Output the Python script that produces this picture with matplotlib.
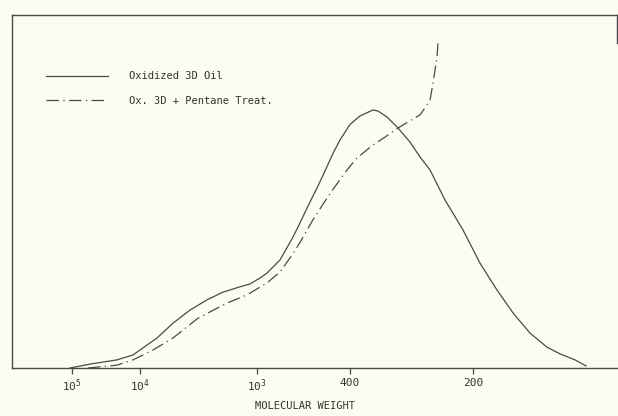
import matplotlib
matplotlib.use("Agg")
import matplotlib.pyplot as plt

# elution position (arbitrary units) and detector response (% of full scale)
oil_x = [5.8, 7.8, 10.5, 12.1, 12.8, 14.5, 16.1, 17.8, 19.5, 21.1, 22.8, 23.8,
         24.8, 25.5, 26.8, 28.1, 28.8, 29.5, 30.5, 31.1, 32.1, 32.8, 33.8, 34.8,
         36.1, 36.6, 37.5, 38.6, 39.8, 40.8, 41.8, 43.3, 45.1, 46.8, 48.5, 50.1,
         51.8, 53.5, 54.8, 56.3, 57.4]
oil_y = [0.0, 1.1, 2.3, 3.7, 5.1, 8.5, 12.7, 16.4, 19.3, 21.5, 23.0, 23.8,
         25.5, 26.9, 30.6, 37.1, 41.1, 45.3, 51.0, 54.6, 60.8, 64.6, 69.0, 71.4,
         73.1, 72.8, 71.1, 68.0, 64.0, 59.8, 56.1, 47.6, 39.1, 29.7, 22.1, 15.6,
         9.9, 5.9, 4.0, 2.3, 0.6]

pent_x = [7.6, 10.5, 12.1, 14.1, 16.1, 18.5, 19.8, 21.5, 23.5, 25.5, 26.8, 28.1,
          28.8, 30.1, 31.1, 32.1, 33.5, 34.5, 36.1, 37.3, 38.6, 40.8, 41.3, 41.8,
          42.1, 42.3, 42.5, 42.6]
pent_y = [0.0, 0.8, 2.3, 5.1, 8.5, 13.9, 15.9, 18.4, 20.7, 24.1, 27.2, 32.4,
          35.6, 42.0, 46.4, 50.6, 56.1, 59.5, 63.2, 65.4, 68.0, 71.7, 73.7, 75.9,
          80.7, 84.4, 88.1, 92.1]

tick_pos = [6.0, 12.8, 24.5, 33.8, 46.1]
tick_labels = [r'$\mathregular{10^5}$', r'$\mathregular{10^4}$', r'$\mathregular{10^3}$', '400', '200']

plt.rcParams['font.family'] = 'DejaVu Sans Mono'
plt.rcParams['mathtext.fontset'] = 'custom'
plt.rcParams['mathtext.rm'] = 'DejaVu Sans Mono'

BG = '#fcfcf0'
INK = '#4a4a4a'

fig = plt.figure(figsize=(6.18, 4.16), dpi=100, facecolor=BG)
ax = fig.add_axes([12/618, 1 - 368/416, 605/618, 353/416])
ax.set_facecolor(BG)

ax.plot(oil_x, oil_y, color=INK, lw=0.9, label='Oxidized 3D Oil')
ax.plot(pent_x, pent_y, color=INK, lw=0.9, dashes=(10, 3.5, 1, 3.5),
        label='Ox. 3D + Pentane Treat.')

ax.set_xlim(0, 60.5)
ax.set_ylim(0, 100)

for s in ['left', 'top', 'bottom', 'right']:
    ax.spines[s].set_color(INK)
    ax.spines[s].set_linewidth(1.0)
ax.spines['right'].set_bounds(92.1, 100)

ax.set_xticks(tick_pos)
ax.set_xticklabels(tick_labels, fontsize=8, color='#333333')
ax.tick_params(axis='x', direction='out', length=4, width=0.9, color=INK, pad=3)
ax.set_yticks([])

leg = ax.legend(loc='upper left', bbox_to_anchor=(0.056, 0.84), frameon=False,
                fontsize=7.5, handlelength=6, handletextpad=2.0,
                labelspacing=1.4, borderpad=0, borderaxespad=0)
for t in leg.get_texts():
    t.set_color('#333333')

fig.text(305/618, 1 - 406/416, 'MOLECULAR WEIGHT', fontsize=7.5, color='#333333',
         ha='center', va='center')

fig.savefig('out.png', dpi=100, facecolor=BG)
